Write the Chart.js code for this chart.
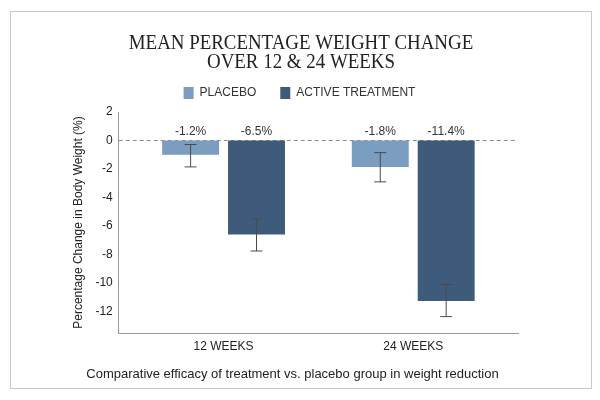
<!DOCTYPE html>
<html>
<head>
<meta charset="utf-8">
<script src="https://cdn.jsdelivr.net/npm/chart.js@4.4.1/dist/chart.umd.min.js"></script>
<style>
  body { margin: 0; background: #fff; }
  #card { position: absolute; left: 10px; top: 11px; width: 580px; height: 376px; border: 1px solid #c9c9c9; }
</style>
</head>
<body>
<div id="card"><canvas id="weightChart" width="580" height="376"></canvas></div>
<script>
// Data
const titleLines = ['MEAN PERCENTAGE WEIGHT CHANGE', 'OVER 12 & 24 WEEKS'];
const categories = ['12 WEEKS', '24 WEEKS'];
const placeboValues = [-1.0, -1.85];
const activeValues = [-6.6, -11.25];
const placeboLabels = ['-1.2%', '-1.8%'];
const activeLabels = ['-6.5%', '-11.4%'];
const placeboErrLow = [-1.85, -2.9];
const placeboErrHigh = [-0.28, -0.85];
const activeErrLow = [-7.75, -12.35];
const activeErrHigh = [-5.5, -10.1];
const yTicks = [2, 0, -2, -4, -6, -8, -10, -12];

const sans = "'Liberation Sans', Arial, sans-serif";

// serif title, slightly condensed
const serifTitle = {
  id: 'serifTitle',
  afterDraw(chart) {
    const { ctx, width } = chart;
    ctx.save();
    ctx.fillStyle = '#222';
    ctx.font = "21px 'Liberation Serif', 'DejaVu Serif', serif";
    ctx.textAlign = 'center';
    ctx.textBaseline = 'middle';
    titleLines.forEach((line, i) => {
      ctx.save();
      ctx.translate(width / 2, 31 + i * 19.5);
      ctx.scale(0.9, 1);
      ctx.fillText(line, 0, 0);
      ctx.restore();
    });
    ctx.restore();
  }
};

// legend: a bit more room below, nudged to the card centre
const legendTweak = {
  id: 'legendTweak',
  beforeInit(chart) {
    const legend = chart.legend;
    const fit = legend.fit;
    legend.fit = function () { fit.call(this); this.height += 3; };
    const draw = legend.draw;
    legend.draw = function () {
      this.ctx.save();
      this.ctx.translate(7, 0);
      draw.call(this);
      this.ctx.restore();
    };
  }
};

// zero line, error bars and value labels
const extras = {
  id: 'extras',
  beforeDatasetsDraw(chart) {
    const { ctx, chartArea, scales: { y } } = chart;
    const y0 = y.getPixelForValue(0);
    ctx.save();
    ctx.strokeStyle = '#8a8a8a';
    ctx.lineWidth = 1;
    ctx.setLineDash([4, 3]);
    ctx.beginPath();
    ctx.moveTo(chartArea.left, y0);
    ctx.lineTo(chartArea.right, y0);
    ctx.stroke();
    ctx.restore();
  },
  afterDatasetsDraw(chart) {
    const { ctx, scales: { y } } = chart;
    const y0 = y.getPixelForValue(0);
    ctx.save();
    chart.data.datasets.forEach((ds, i) => {
      const meta = chart.getDatasetMeta(i);
      meta.data.forEach((bar, j) => {
        const lo = y.getPixelForValue(ds.errLow[j]);
        const hi = y.getPixelForValue(ds.errHigh[j]);
        ctx.strokeStyle = '#4a4a4a';
        ctx.lineWidth = 1;
        ctx.beginPath();
        ctx.moveTo(bar.x, lo); ctx.lineTo(bar.x, hi);
        ctx.moveTo(bar.x - 6, lo); ctx.lineTo(bar.x + 6, lo);
        ctx.moveTo(bar.x - 6, hi); ctx.lineTo(bar.x + 6, hi);
        ctx.stroke();

        ctx.fillStyle = '#333';
        ctx.font = '12px ' + sans;
        ctx.textAlign = 'center';
        ctx.textBaseline = 'alphabetic';
        ctx.fillText(ds.valueLabels[j], bar.x, y0 - 6);
      });
    });
    ctx.restore();
  }
};

new Chart(document.getElementById('weightChart'), {
  type: 'bar',
  data: {
    labels: categories,
    datasets: [{
      label: 'PLACEBO',
      data: placeboValues,
      valueLabels: placeboLabels,
      errLow: placeboErrLow,
      errHigh: placeboErrHigh,
      backgroundColor: '#7b9dc0',
      barPercentage: 0.864,
      categoryPercentage: 0.695
    }, {
      label: 'ACTIVE TREATMENT',
      data: activeValues,
      valueLabels: activeLabels,
      errLow: activeErrLow,
      errHigh: activeErrHigh,
      backgroundColor: '#3f5b7b',
      barPercentage: 0.864,
      categoryPercentage: 0.695
    }]
  },
  options: {
    responsive: false,
    animation: false,
    devicePixelRatio: 1,
    layout: { padding: { left: 56, right: 73, top: 51, bottom: 0 } },
    plugins: {
      title: { display: false },
      legend: {
        display: true,
        labels: {
          color: '#333',
          font: { family: sans, size: 12 },
          boxWidth: 10,
          boxHeight: 12,
          padding: 24
        }
      },
      subtitle: {
        display: true,
        position: 'bottom',
        text: 'Comparative efficacy of treatment vs. placebo group in weight reduction',
        color: '#222',
        font: { family: sans, size: 13 },
        padding: { top: 7, bottom: 6 }
      },
      tooltip: { enabled: false }
    },
    scales: {
      x: {
        grid: { display: false, drawTicks: false },
        border: { color: '#999' },
        ticks: { color: '#222', font: { family: sans, size: 12 }, padding: 6 },
        // categories sit a little closer together than an even split
        afterBuildTicks: (scale) => {
          scale.ticks = categories.map((c, i) => ({ value: i }));
          scale._startValue = -0.5526;
          scale._valueRange = 2.105;
        }
      },
      y: {
        min: -13.5,
        max: 2,
        afterBuildTicks: (scale) => { scale.ticks = yTicks.map(v => ({ value: v })); },
        grid: { display: false, drawTicks: false },
        border: { color: '#999' },
        ticks: { color: '#222', font: { family: sans, size: 12 }, padding: 6 },
        title: {
          display: true,
          text: 'Percentage Change in Body Weight (%)',
          color: '#222',
          font: { family: sans, size: 12 }
        }
      }
    }
  },
  plugins: [extras, serifTitle, legendTweak]
});
</script>
</body>
</html>
